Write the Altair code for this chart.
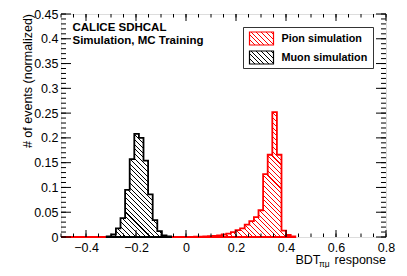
import altair as alt
import pandas as pd

# ---------------- data ----------------
BIN_WIDTH = 0.0184
MUON_FIRST_EDGE = -0.3172
muon_values = [0.001, 0.005, 0.0175, 0.038, 0.095, 0.157, 0.208, 0.200,
               0.154, 0.086, 0.034, 0.012, 0.003, 0.001]
PION_FIRST_EDGE = 0.014
pion_values = [0.0003, 0.0005, 0.0008, 0.001, 0.0015, 0.002, 0.003, 0.005,
               0.007, 0.010, 0.014, 0.0175, 0.025, 0.032, 0.040, 0.054,
               0.127, 0.166, 0.252, 0.166, 0.013, 0.004, 0.001]

x_labels = [-0.4, -0.2, 0.0, 0.2, 0.4, 0.6, 0.8]
x_minor = [round(-0.5 + 0.05 * i, 3) for i in range(27)]
y_labels = [round(0.05 * i, 2) for i in range(10)]
y_minor = [round(0.01 * i, 2) for i in range(46)]

legend_labels = ["Pion simulation", "Muon simulation"]
header_lines = ["CALICE SDHCAL", "Simulation, MC Training"]
y_title = "# of events (normalized)"

# ---------------- layout ----------------
W, H = 325, 223
XMIN, XMAX = -0.5, 0.8
YMIN, YMAX = 0.0, 0.45
XS = W / (XMAX - XMIN)
YS = H / (YMAX - YMIN)
FONT = "Liberation Sans"
RED = "#ff0000"


def step_frame(first_edge, values):
    rows = []
    for i, v in enumerate(values):
        rows.append({"x": first_edge + i * BIN_WIDTH, "y": v})
    rows.append({"x": first_edge + len(values) * BIN_WIDTH, "y": 0.0})
    return pd.DataFrame(rows)


def hatch(color, wpx, hpx, spacing=3.4, lw=0.75):
    """Diagonal '\\' hatch as a striped linear gradient over a bbox of wpx x hpx."""
    r = hpx / wpx
    m = max(1.0, (1 + r) / (1 + r * r))
    D = wpx * (1 + r * r) / 2 ** 0.5 * m
    per = spacing / D
    lwt = lw / D
    stops = []
    t = 0.0
    while t < 1.0:
        a = round(t, 6)
        b = round(min(t + lwt, 1.0), 6)
        c = round(min(t + per, 1.0), 6)
        stops += [alt.GradientStop(color=color, offset=a),
                  alt.GradientStop(color=color, offset=b),
                  alt.GradientStop(color="white", offset=b),
                  alt.GradientStop(color="white", offset=c)]
        t += per
    return alt.LinearGradient(gradient="linear", stops=stops,
                              x1=0, y1=1, x2=m, y2=1 - r * m)


xs = alt.Scale(domain=[XMIN, XMAX], nice=False, zero=False)
ys = alt.Scale(domain=[YMIN, YMAX], nice=False, zero=False)
AX_X = alt.Axis(values=x_labels, format=".1~f", ticks=False, domain=False, grid=False,
                title=None, labelFont=FONT, labelFontSize=12.5, labelColor="black",
                labelPadding=4, labelFlush=False, labelOverlap=False)
AX_Y = alt.Axis(values=y_labels, format=".2~f", ticks=False, domain=False, grid=False,
                title=None, labelFont=FONT, labelFontSize=12.5, labelColor="black",
                labelPadding=3, labelOverlap=False)

muon_df = step_frame(MUON_FIRST_EDGE, muon_values)
pion_df = step_frame(PION_FIRST_EDGE, pion_values)

muon_grad = hatch("black", len(muon_values) * BIN_WIDTH * XS, max(muon_values) * YS)
pion_grad = hatch(RED, len(pion_values) * BIN_WIDTH * XS, max(pion_values) * YS)

pion_end = PION_FIRST_EDGE + len(pion_values) * BIN_WIDTH
baseline = alt.Chart(pd.DataFrame({"x": [XMIN], "x2": [pion_end], "y": [0.0]})).mark_rule(
    color=RED, strokeWidth=1.8).encode(
    x=alt.X("x:Q", scale=xs, axis=AX_X), x2="x2:Q", y=alt.Y("y:Q", scale=ys, axis=AX_Y))

pion_area = alt.Chart(pion_df).mark_area(
    interpolate="step-after", fill=pion_grad, stroke=RED, strokeWidth=1.8).encode(
    x=alt.X("x:Q", scale=xs, axis=AX_X), y=alt.Y("y:Q", scale=ys, axis=AX_Y))

muon_area = alt.Chart(muon_df).mark_area(
    interpolate="step-after", fill=muon_grad, stroke="black", strokeWidth=1.8).encode(
    x=alt.X("x:Q", scale=xs, axis=AX_X), y=alt.Y("y:Q", scale=ys, axis=AX_Y))


def xtick_layer(vals, y0, y1):
    return alt.Chart(pd.DataFrame({"x": vals})).mark_rule(color="black", strokeWidth=1).encode(
        x=alt.X("x:Q", scale=xs, axis=AX_X), y=alt.value(y0), y2=alt.value(y1))


def ytick_layer(vals, x0, x1):
    return alt.Chart(pd.DataFrame({"y": vals})).mark_rule(color="black", strokeWidth=1).encode(
        y=alt.Y("y:Q", scale=ys, axis=AX_Y), x=alt.value(x0), x2=alt.value(x1))


ticks = [
    xtick_layer(x_minor, H, H - 3.5), xtick_layer(x_labels, H, H - 7),
    xtick_layer(x_minor, 0, 3.5), xtick_layer(x_labels, 0, 7),
    ytick_layer(y_minor, 0, 5), ytick_layer(y_labels, 0, 10),
    ytick_layer(y_minor, W, W - 5), ytick_layer(y_labels, W, W - 10),
]

# legend box
leg_box = alt.Chart(pd.DataFrame({"a": [0]})).mark_rect(
    fill="white", stroke="black", strokeWidth=0.8).encode(
    x=alt.value(182.5), x2=alt.value(312.5), y=alt.value(13.5), y2=alt.value(54.5))
leg_pion = alt.Chart(pd.DataFrame({"a": [0]})).mark_rect(
    fill=hatch(RED, 24, 13), stroke=RED, strokeWidth=1.2).encode(
    x=alt.value(188.5), x2=alt.value(212.5), y=alt.value(18), y2=alt.value(31))
leg_muon = alt.Chart(pd.DataFrame({"a": [0]})).mark_rect(
    fill=hatch("black", 24, 13), stroke="black", strokeWidth=1.2).encode(
    x=alt.value(188.5), x2=alt.value(212.5), y=alt.value(37), y2=alt.value(50))
leg_text = alt.Chart(pd.DataFrame({"t": legend_labels, "yy": [24.5, 43.5]})).mark_text(
    align="left", baseline="middle", font=FONT, fontSize=10.8, fontWeight="bold",
    color="black").encode(text="t:N", x=alt.value(220.5), y=alt.Y("yy:Q", scale=None))

header = alt.Chart(pd.DataFrame({"t": header_lines, "yy": [13.5, 26.5]})).mark_text(
    align="left", baseline="middle", font=FONT, fontSize=11.5, fontWeight="bold",
    color="black").encode(text="t:N", x=alt.value(11.5), y=alt.Y("yy:Q", scale=None))

ytitle = alt.Chart(pd.DataFrame({"t": [y_title]})).mark_text(
    align="right", baseline="middle", angle=270, font=FONT, fontSize=12.5,
    color="black").encode(text="t:N", x=alt.value(-33), y=alt.value(0))

xt_main = alt.Chart(pd.DataFrame({"t": ["BDT"]})).mark_text(
    align="left", baseline="alphabetic", font=FONT, fontSize=12.5, color="black").encode(
    text="t:N", x=alt.value(234.5), y=alt.value(26.5 + H))
xt_sub = alt.Chart(pd.DataFrame({"t": ["πμ"]})).mark_text(
    align="left", baseline="alphabetic", font=FONT, fontSize=8.5, color="black").encode(
    text="t:N", x=alt.value(258), y=alt.value(29.5 + H))
xt_rest = alt.Chart(pd.DataFrame({"t": ["response"]})).mark_text(
    align="right", baseline="alphabetic", font=FONT, fontSize=12.5, color="black").encode(
    text="t:N", x=alt.value(W), y=alt.value(26.5 + H))

chart = alt.layer(
    baseline, pion_area, muon_area, *ticks,
    leg_box, leg_pion, leg_muon, leg_text, header, ytitle, xt_main, xt_sub, xt_rest,
).properties(
    width=W, height=H,
    padding={"left": 53, "top": 6, "right": 13, "bottom": 31},
    autosize=alt.AutoSizeParams(type="none"),
).configure_view(stroke="black", strokeWidth=1.2).configure(background="white")

chart.save("out.html", embed_options={"renderer": "svg", "actions": False})
